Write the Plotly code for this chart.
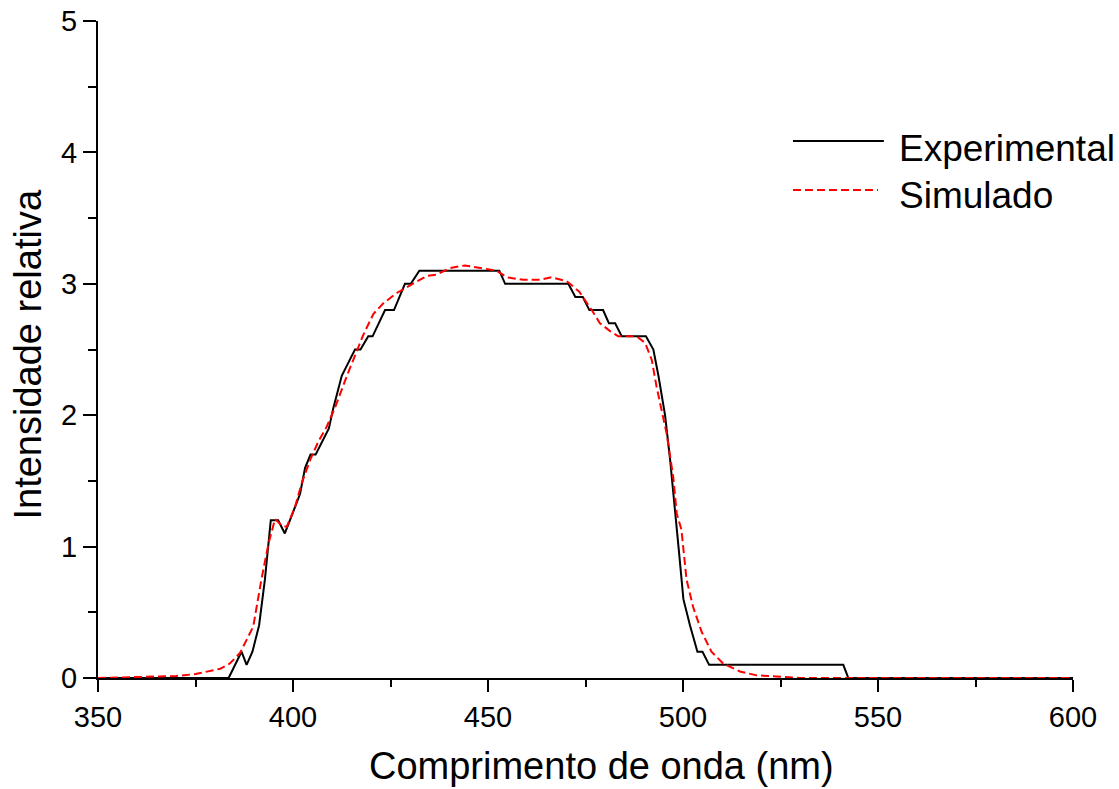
import plotly.graph_objects as go

# Experimental spectrum (breakpoints)
exp_x = [350, 383.5, 386.8, 388.1, 389.6, 391.3, 392.8, 394.3, 396.2, 397.9, 399.6,
         401.8, 403.1, 404.5, 405.8, 407.5, 409.2, 410.3, 412.5, 414.2, 415.9, 417.3,
         419.3, 420.4, 423.6, 425.9, 427.3, 428.7, 430.2, 432.4, 452.9, 454.4, 470.6,
         472.4, 474.3, 476.0, 479.5, 481.0, 482.6, 484.3, 490.5, 492.4, 493.7, 494.5,
         495.4, 496.7, 498.0, 499.1, 500.1, 501.8, 503.7, 505.0, 506.7, 541.1, 542.4, 600]
exp_y = [0, 0, 0.2, 0.1, 0.2, 0.4, 0.75, 1.2, 1.2, 1.1, 1.23,
         1.4, 1.6, 1.7, 1.7, 1.8, 1.9, 2.05, 2.3, 2.4, 2.5, 2.5,
         2.6, 2.6, 2.8, 2.8, 2.9, 3.0, 3.0, 3.1, 3.1, 3.0, 3.0,
         2.9, 2.9, 2.8, 2.8, 2.7, 2.7, 2.6, 2.6, 2.5, 2.3, 2.15,
         2.0, 1.66, 1.28, 0.92, 0.6, 0.4, 0.2, 0.2, 0.1, 0.1, 0, 0]

# Simulated spectrum
sim_x = [350, 360, 365, 370, 375, 378, 381.3, 383.8, 386.4, 389.8, 391.9, 393.7,
         395.4, 397.1, 398.4, 400.5, 402.2, 404.4, 406.5, 408.6, 410.8, 413.7, 415.9,
         418.0, 420.6, 423.1, 426.6, 430.0, 434.3, 436.8, 440.3, 444.1, 448.8, 452.2,
         454.8, 459.1, 463.3, 466.3, 470.2, 473.4, 476.6, 478.7, 481.3, 483.4, 488.1,
         490.3, 492.0, 493.2, 494.5, 495.8, 497.5, 498.4, 499.6, 500.9, 502.6, 504.8,
         507.3, 510.3, 514.6, 518.9, 525.0, 530, 600]
sim_y = [0, 0.005, 0.01, 0.015, 0.03, 0.05, 0.07, 0.11, 0.19, 0.39, 0.75, 1.02,
         1.21, 1.16, 1.15, 1.3, 1.48, 1.66, 1.8, 1.91, 2.06, 2.29, 2.45,
         2.61, 2.77, 2.85, 2.93, 2.99, 3.06, 3.07, 3.12, 3.14, 3.12, 3.1,
         3.05, 3.03, 3.03, 3.05, 3.02, 2.94, 2.8, 2.7, 2.64, 2.6, 2.6,
         2.55, 2.42, 2.22, 2.04, 1.86, 1.53, 1.25, 1.13, 0.75, 0.54, 0.35,
         0.2, 0.11, 0.05, 0.02, 0.01, 0, 0]

x_ticks = [350, 400, 450, 500, 550, 600]
y_ticks = [0, 1, 2, 3, 4, 5]
series_names = ["Experimental", "Simulado"]

FONT = "Liberation Sans, Arial, sans-serif"

fig = go.Figure()
fig.add_trace(go.Scatter(x=exp_x, y=exp_y, mode="lines", name=series_names[0],
                         line=dict(color="black", width=2), showlegend=False))
fig.add_trace(go.Scatter(x=sim_x, y=sim_y, mode="lines", name=series_names[1],
                         line=dict(color="#ff0000", width=2, dash="8px,4px"),
                         showlegend=False))

# Manual legend (long line samples as in the original)
leg = [(series_names[0], "black", "solid", 0.8174, 0.806, 0.8062),
       (series_names[1], "#ff0000", "8px,4px", 0.7428, 0.800, 0.7345)]
for name, col, dash, ly, lx1, ty in leg:
    fig.add_shape(type="line", xref="paper", yref="paper", x0=0.7128, x1=lx1,
                  y0=ly, y1=ly, line=dict(color=col, width=2, dash=dash))
    fig.add_annotation(xref="paper", yref="paper", x=0.8195, y=ty, text=name,
                       showarrow=False, xanchor="left", yanchor="middle",
                       font=dict(family=FONT, size=37, color="black"))

fig.update_layout(
    width=1119, height=789,
    margin=dict(l=98, r=46, t=21, b=111),
    paper_bgcolor="white", plot_bgcolor="white",
    font=dict(family=FONT, color="black"),
)
fig.update_xaxes(
    range=[350, 600], tickvals=x_ticks, ticktext=[str(v) for v in x_ticks],
    automargin=False,
    showgrid=False, zeroline=False, showline=True, linecolor="black", linewidth=2,
    ticks="outside", ticklen=12, tickwidth=2, tickcolor="black",
    minor=dict(dtick=25, ticks="outside", ticklen=7, tickwidth=2, tickcolor="black", showgrid=False),
    tickfont=dict(size=29, family=FONT),
    title=dict(text="&nbsp;&nbsp;&nbsp;Comprimento de onda (nm)", font=dict(size=38, family=FONT), standoff=21),
)
fig.update_yaxes(
    range=[0, 5], tickvals=y_ticks, ticktext=[str(v) for v in y_ticks],
    automargin=False,
    showgrid=False, zeroline=False, showline=True, linecolor="black", linewidth=2,
    ticks="outside", ticklen=13, tickwidth=2, tickcolor="black",
    minor=dict(dtick=0.5, ticks="outside", ticklen=8, tickwidth=2, tickcolor="black", showgrid=False),
    tickfont=dict(size=29, family=FONT),
    title=dict(text="Intensidade relativa&nbsp;", font=dict(size=38, family=FONT), standoff=8),
)

fig.write_html("out.html", config={"displayModeBar": False},
               post_script="document.body.style.margin='0';document.body.style.overflow='hidden';")
